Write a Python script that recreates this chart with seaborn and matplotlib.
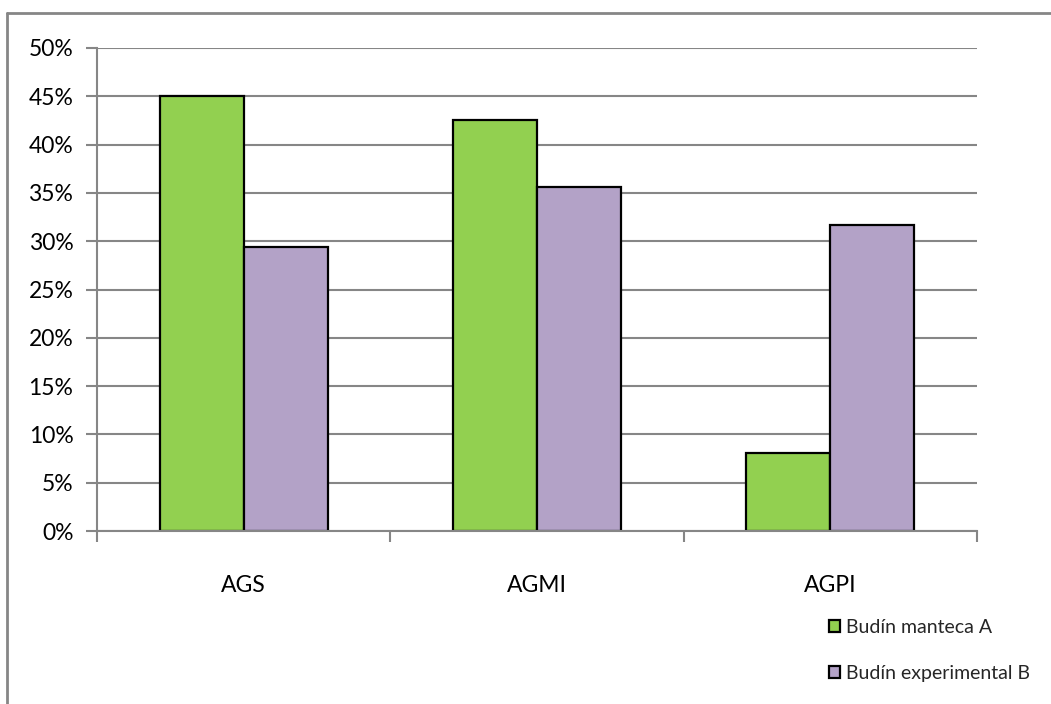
import matplotlib
matplotlib.use("Agg")
import matplotlib.pyplot as plt
import seaborn as sns
import pandas as pd
from matplotlib.lines import Line2D
from matplotlib.ticker import FixedLocator, PercentFormatter

categories = ["AGS", "AGMI", "AGPI"]
series_names = ["Budín manteca A", "Budín experimental B"]
manteca_a = [45.0, 42.5, 8.1]
experimental_b = [29.4, 35.6, 31.7]
y_ticks = [0, 5, 10, 15, 20, 25, 30, 35, 40, 45, 50]
colors = ["#92D050", "#B3A2C7"]

df = pd.DataFrame({
    "cat": categories * 2,
    "serie": [series_names[0]] * 3 + [series_names[1]] * 3,
    "val": manteca_a + experimental_b,
})

sns.set_theme(style="white")
plt.rcParams["font.family"] = ["Lato", "DejaVu Sans"]
gray = "#868686"

fig = plt.figure(figsize=(10.51, 7.04), dpi=100)
ax = fig.add_axes([97/1051, 1-531/704, (977-97)/1051, (531-48)/704])

sns.barplot(data=df, x="cat", y="val", hue="serie", order=categories,
            hue_order=series_names, palette=colors, width=0.573,
            edgecolor="black", linewidth=1.6, saturation=1, ax=ax, legend=True)

ax.set_ylim(0, 50)
ax.set_xlim(-0.5, 2.5)
ax.set_yticks(y_ticks)
ax.yaxis.set_major_formatter(PercentFormatter(decimals=0))
ax.yaxis.grid(True, color=gray, linewidth=1.5)
ax.set_axisbelow(True)
ax.set_xlabel("")
ax.set_ylabel("")
for s in ["top", "right"]:
    ax.spines[s].set_visible(False)
for s in ["left", "bottom"]:
    ax.spines[s].set_color(gray)
    ax.spines[s].set_linewidth(1.5)
ax.tick_params(axis="y", which="major", left=True, length=8, width=1.5, color=gray,
               labelsize=16.5, pad=9, labelcolor="black")
ax.tick_params(axis="x", which="major", length=0, labelsize=16.5, pad=32, labelcolor="black")
ax.xaxis.set_minor_locator(FixedLocator([-0.5, 0.5, 1.5, 2.5]))
ax.tick_params(axis="x", which="minor", bottom=True, length=8, width=1.5, color=gray)

handles, labels = ax.get_legend_handles_labels()
ax.get_legend().remove()
leg = fig.legend(handles, labels, loc="upper left", bbox_to_anchor=(829/1051, 1-619/704),
                 frameon=False, fontsize=14, handlelength=0.55, handleheight=0.55,
                 handletextpad=0.35, labelspacing=1.5, borderaxespad=0, borderpad=0)

fig.add_artist(Line2D([7/1051, 7/1051], [0, 1-13/704], color=gray, linewidth=2,
                      transform=fig.transFigure))
fig.add_artist(Line2D([7/1051, 1], [1-13/704, 1-13/704], color=gray, linewidth=2,
                      transform=fig.transFigure))

fig.savefig("out.png", dpi=100)
